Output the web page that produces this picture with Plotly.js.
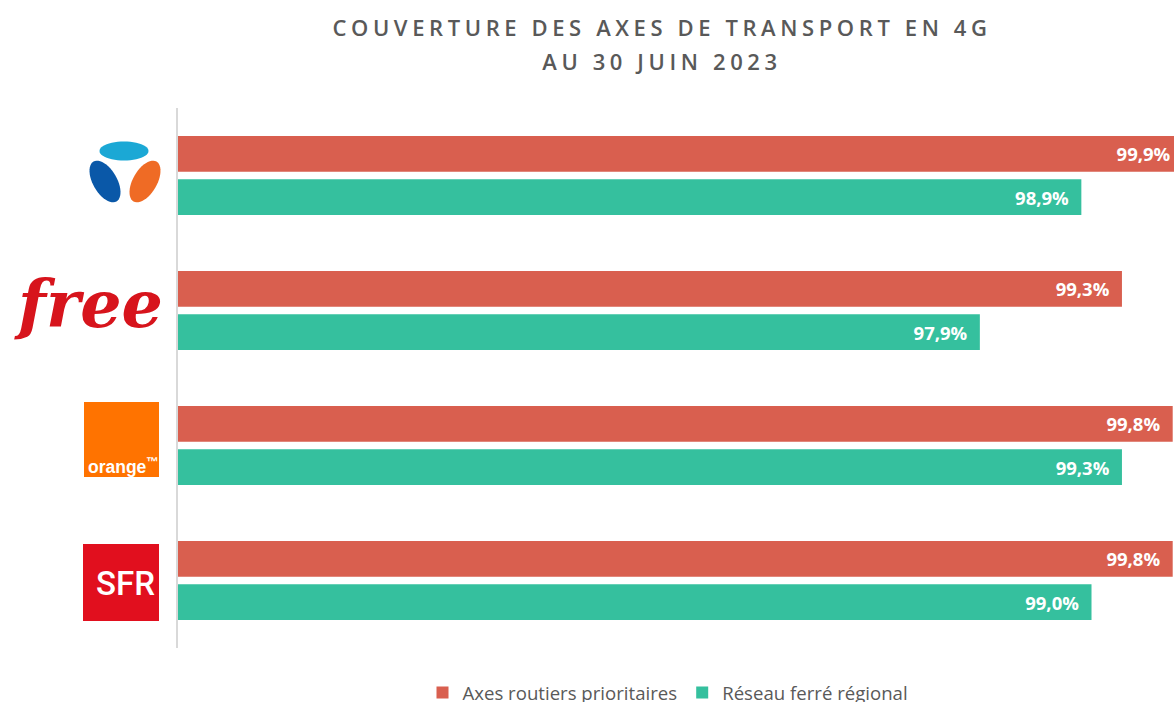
<!DOCTYPE html>
<html>
<head>
<meta charset="utf-8">
<script src="https://cdn.plot.ly/plotly-3.0.1.min.js"></script>
<style>
html,body{margin:0;padding:0;background:#fff;overflow:hidden;}
#chart .infolayer text.gtitle{letter-spacing:4.6px;}
</style>
</head>
<body>
<div id="chart" style="width:1174px;height:702px;"></div>
<script>
// ---- data ----
const operators = ["Bouygues Telecom", "Free", "Orange", "SFR"];
const seriesNames = ["Axes routiers prioritaires", "Réseau ferré régional"];
const routiers = [99.9, 99.3, 99.8, 99.8];
const ferre = [98.9, 97.9, 99.3, 99.0];
const axisStart = 90;
const titleLines = ["COUVERTURE DES AXES DE TRANSPORT EN 4G", "AU 30 JUIN 2023"];

// ---- layout geometry ----
const W = 1174, H = 702;
const M = {l: 178, r: 0, t: 108, b: 54};
const PW = W - M.l - M.r, PH = H - M.t - M.b;
const X = px => (px - M.l) / PW;
const Y = py => (H - M.b - py) / PH;

function ellipsePath(cx, cy, a, b, deg) {
  const th = deg * Math.PI / 180, n = 48;
  let d = "";
  for (let i = 0; i <= n; i++) {
    const t = 2 * Math.PI * i / n;
    const x = cx + a * Math.cos(t) * Math.cos(th) - b * Math.sin(t) * Math.sin(th);
    const y = cy + a * Math.cos(t) * Math.sin(th) + b * Math.sin(t) * Math.cos(th);
    d += (i === 0 ? "M" : "L") + X(x).toFixed(5) + "," + Y(y).toFixed(5);
  }
  return d + "Z";
}

const shapes = [
  {type: "path", xref: "paper", yref: "paper", path: ellipsePath(124, 151, 24.5, 9.5, 0), fillcolor: "#1ba8d5", line: {width: 0}},
  {type: "path", xref: "paper", yref: "paper", path: ellipsePath(105, 181.5, 23, 12, 60), fillcolor: "#0a58a8", line: {width: 0}},
  {type: "path", xref: "paper", yref: "paper", path: ellipsePath(145, 181.5, 23, 12, 120), fillcolor: "#ef6b25", line: {width: 0}},
  {type: "rect", xref: "paper", yref: "paper", x0: X(84), x1: X(159), y0: Y(477), y1: Y(402), fillcolor: "#ff7300", line: {width: 0}},
  {type: "rect", xref: "paper", yref: "paper", x0: X(83), x1: X(159), y0: Y(621), y1: Y(544), fillcolor: "#e10f1e", line: {width: 0}}
];

const annotations = [
  {xref: "paper", yref: "paper", x: X(88), y: Y(304), xanchor: "center", yanchor: "middle", showarrow: false,
   text: "free", font: {family: "DejaVu Serif", size: 65, color: "#d7141c", style: "italic", weight: 700}},
  {xref: "paper", yref: "paper", x: X(86), y: Y(466), xanchor: "left", yanchor: "middle", showarrow: false,
   text: "orange<sup>™</sup>", font: {family: "Liberation Sans", size: 17.5, color: "#ffffff", weight: 700}},
  {xref: "paper", yref: "paper", x: X(157), y: Y(583), xanchor: "right", yanchor: "middle", showarrow: false,
   text: "SFR", font: {family: "Roboto", size: 33, color: "#ffffff", weight: 500}}
];

const labelFont = {family: "Open Sans", size: 18.5, color: "#ffffff", weight: 700};
const pad = "\u00a0\u00a0";

const traces = [
  {type: "bar", orientation: "h", name: seriesNames[0], y: operators, x: routiers,
   marker: {color: "#d95f4f"}, texttemplate: "%{x:.1f}%" + pad, textposition: "inside",
   insidetextanchor: "end", textfont: labelFont, cliponaxis: true},
  {type: "bar", orientation: "h", name: seriesNames[1], y: operators, x: ferre,
   marker: {color: "#35c09e"}, texttemplate: "%{x:.1f}%" + pad, textposition: "inside",
   insidetextanchor: "end", textfont: labelFont, cliponaxis: true}
];

const layout = {
  width: W, height: H,
  margin: M,
  paper_bgcolor: "#ffffff", plot_bgcolor: "#ffffff",
  separators: ", ",
  barmode: "group", bargap: 0.36, bargroupgap: 0.17,
  title: {
    text: titleLines.map(s => "<span style='font-size:22px'>" + s + "</span>").join("<br>"),
    x: 662 / W, xanchor: "center", xref: "container",
    y: 1 - 36 / H, yanchor: "middle", yref: "container",
    font: {family: "Open Sans", size: 26, color: "#595959", weight: 600}
  },
  xaxis: {range: [axisStart, axisStart + PW / 101.5], showgrid: false, zeroline: false,
          showticklabels: false, showline: false, ticks: "", fixedrange: true},
  yaxis: {type: "category", autorange: "reversed", showgrid: false, zeroline: false,
          showticklabels: false, ticks: "", showline: true, linecolor: "#d9d9d9", linewidth: 2},
  showlegend: true,
  legend: {orientation: "h", x: 668 / W, xanchor: "center", xref: "container",
           y: 1 - 693 / H, yanchor: "middle", yref: "container",
           font: {family: "Open Sans", size: 18.6, color: "#595959"}, traceorder: "normal"},
  shapes: shapes,
  annotations: annotations
};

Plotly.newPlot("chart", traces, layout, {staticPlot: true, displayModeBar: false});
</script>
</body>
</html>
